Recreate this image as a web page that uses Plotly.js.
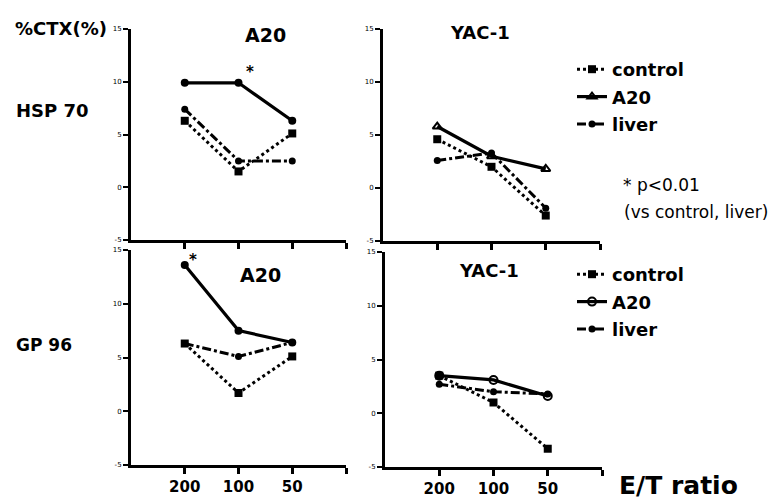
<!DOCTYPE html>
<html>
<head>
<meta charset="utf-8">
<script src="https://cdn.plot.ly/plotly-3.0.1.min.js"></script>
<style>html,body{margin:0;padding:0;background:#fff;}#chart{width:784px;height:499px;}</style>
</head>
<body>
<div id="chart"></div>
<script>
// E/T ratio categories
const categories = ['200', '100', '50'];
const yTicks = [-5, 0, 5, 10, 15];
const seriesNames = ['control', 'A20', 'liver'];

// HSP 70, target A20
const hspA20_control = [6.3, 1.5, 5.1];
const hspA20_A20     = [9.9, 9.9, 6.3];
const hspA20_liver   = [7.4, 2.5, 2.5];
// HSP 70, target YAC-1
const hspYAC_control = [4.6, 2.0, -2.6];
const hspYAC_A20     = [5.8, 3.0, 1.8];
const hspYAC_liver   = [2.6, 3.3, -1.9];
// GP 96, target A20
const gpA20_control = [6.3, 1.7, 5.1];
const gpA20_A20     = [13.6, 7.5, 6.4];
const gpA20_liver   = [6.3, 5.1, 6.4];
// GP 96, target YAC-1
const gpYAC_control = [3.5, 1.0, -3.3];
const gpYAC_A20     = [3.5, 3.1, 1.6];
const gpYAC_liver   = [2.7, 2.0, 1.8];

const xPos = categories.map((c, i) => i + 1);

const styles = {
  control: {line: {color: '#000', width: 3, dash: 'dot'}, marker: {symbol: 'square', size: 8, color: '#000'}},
  A20:     {line: {color: '#000', width: 3.2, dash: 'solid'}, marker: {symbol: 'circle', size: 8, color: '#000'}},
  liver:   {line: {color: '#000', width: 3, dash: 'dashdot'}, marker: {symbol: 'circle', size: 7, color: '#000'}}
};

function tr(name, y, xa, ya, legend, a20Open) {
  const s = JSON.parse(JSON.stringify(styles[name]));
  if (name === 'A20' && a20Open) { s.marker.symbol = a20Open; s.marker.line = {width: 2, color: '#000'}; s.marker.color = '#000'; }
  return {
    type: 'scatter', mode: 'lines+markers', name: name, x: xPos, y: y,
    xaxis: xa, yaxis: ya, line: s.line, marker: s.marker,
    showlegend: !!legend, legend: legend || 'legend', legendgroup: name + (legend || ''),
    hoverinfo: 'skip'
  };
}

const data = [
  tr('control', hspA20_control, 'x', 'y'),
  tr('A20', hspA20_A20, 'x', 'y'),
  tr('liver', hspA20_liver, 'x', 'y'),
  tr('control', hspYAC_control, 'x2', 'y2', 'legend'),
  tr('A20', hspYAC_A20, 'x2', 'y2', 'legend', 'triangle-up-open'),
  tr('liver', hspYAC_liver, 'x2', 'y2', 'legend'),
  tr('control', gpA20_control, 'x3', 'y3'),
  tr('A20', gpA20_A20, 'x3', 'y3'),
  tr('liver', gpA20_liver, 'x3', 'y3'),
  tr('control', gpYAC_control, 'x4', 'y4', 'legend2'),
  tr('A20', gpYAC_A20, 'x4', 'y4', 'legend2', 'circle-open'),
  tr('liver', gpYAC_liver, 'x4', 'y4', 'legend2')
];

const W = 784, H = 499;
const px = v => v / W;
const py = v => 1 - v / H;

function xax(d0, d1, labels, anchor) {
  return {
    domain: [px(d0), px(d1)], anchor: anchor, range: [0, categories.length + 1],
    tickvals: categories.map((c, i) => i + 1).concat([categories.length + 1]),
    ticktext: (labels ? categories : categories.map(() => '')).concat(['']),
    showline: true, linewidth: 3, linecolor: '#000', ticks: 'outside', ticklen: 6, tickwidth: 3,
    tickcolor: '#000', showgrid: false, zeroline: false, fixedrange: true,
    tickfont: {family: 'DejaVu Sans', size: 15, weight: 'bold', color: '#000'}
  };
}
function yax(top, bottom, anchor) {
  return {
    domain: [py(bottom), py(top)], anchor: anchor, range: [-5, 15],
    tickvals: yTicks, ticktext: yTicks.map(String),
    showline: true, linewidth: 3, linecolor: '#000', ticks: 'outside', ticklen: 5, tickwidth: 2,
    tickcolor: '#000', showgrid: false, zeroline: false, fixedrange: true,
    tickfont: {family: 'DejaVu Sans', size: 7, color: '#000'}
  };
}

const bold = (t, x, y, size, xanchor, extra) => Object.assign({
  text: t, xref: 'paper', yref: 'paper', x: px(x), y: py(y), xanchor: xanchor || 'center', yanchor: 'middle',
  showarrow: false, font: {family: 'DejaVu Sans', size: size, weight: 'bold', color: '#000'}
}, extra || {});

const annotations = [
  bold('%CTX(%)', 13, 28, 18, 'left'),
  bold('HSP 70', 14, 110, 18, 'left'),
  bold('GP 96', 14, 345, 17, 'left'),
  bold('A20', 265, 35, 19),
  bold('YAC-1', 480, 33, 18),
  bold('A20', 260, 275, 19),
  bold('YAC-1', 489, 270, 18),
  bold('*', 250, 72, 15),
  bold('*', 193, 260, 15),
  bold('E/T ratio', 617, 485, 25, 'left'),
  {text: '* p<0.01', xref: 'paper', yref: 'paper', x: px(621), y: py(185), xanchor: 'left', yanchor: 'middle', showarrow: false,
   font: {family: 'DejaVu Sans', size: 17, color: '#000'}},
  {text: '(vs control, liver)', xref: 'paper', yref: 'paper', x: px(622), y: py(212), xanchor: 'left', yanchor: 'middle', showarrow: false,
   font: {family: 'DejaVu Sans', size: 17, color: '#000'}}
];

const legendBase = {
  xanchor: 'left', yanchor: 'top', bgcolor: 'rgba(0,0,0,0)', borderwidth: 0,
  font: {family: 'DejaVu Sans', size: 18, weight: 'bold', color: '#000'},
  traceorder: 'grouped', tracegroupgap: 1, itemclick: false, itemdoubleclick: false
};

const layout = {
  width: W, height: H, margin: {l: 0, r: 0, t: 0, b: 0},
  paper_bgcolor: '#fff', plot_bgcolor: '#fff', showlegend: true,
  xaxis: xax(131, 346, false, 'y'),
  yaxis: yax(29, 240, 'x'),
  xaxis2: xax(383, 600, false, 'y2'),
  yaxis2: yax(29, 241, 'x2'),
  xaxis3: xax(131, 346, true, 'y3'),
  yaxis3: yax(250, 465, 'x3'),
  xaxis4: xax(385, 602, true, 'y4'),
  yaxis4: yax(252, 467, 'x4'),
  legend: Object.assign({x: px(572), y: py(51)}, legendBase),
  legend2: Object.assign({x: px(572), y: py(256)}, legendBase),
  annotations: annotations
};

Plotly.newPlot('chart', data, layout, {staticPlot: true, displayModeBar: false});
</script>
</body>
</html>
